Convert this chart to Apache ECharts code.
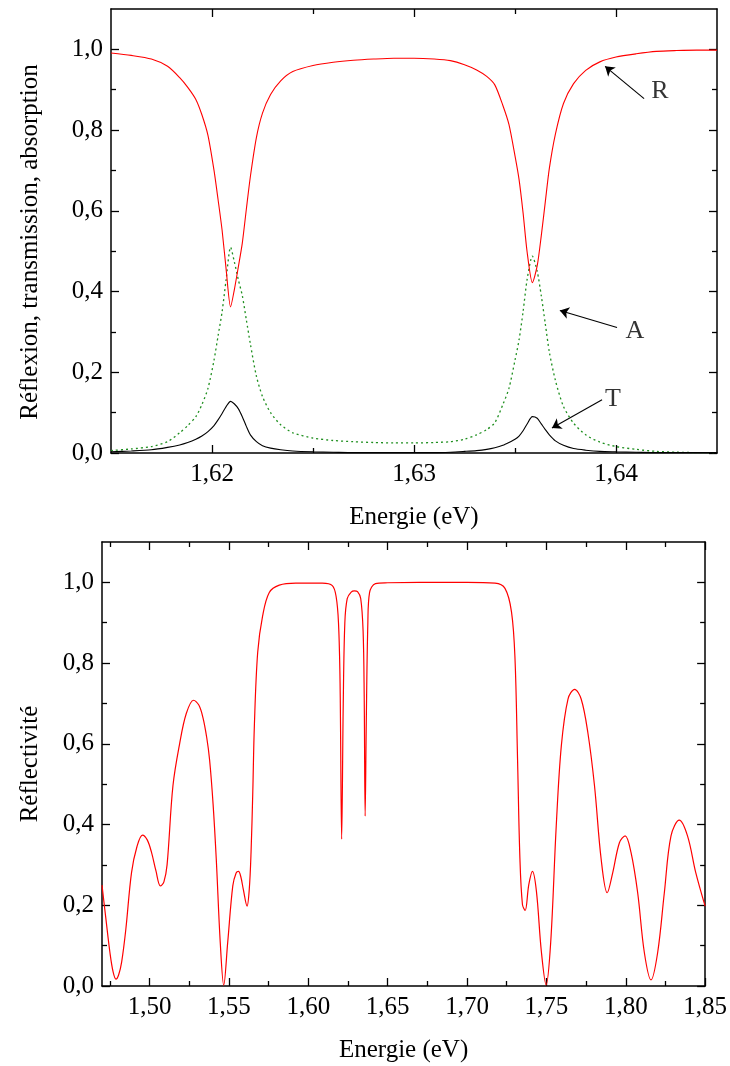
<!DOCTYPE html>
<html>
<head>
<meta charset="utf-8">
<script src="https://cdn.jsdelivr.net/npm/echarts@6/dist/echarts.min.js"></script>
<style>
html,body{margin:0;padding:0;background:#fff;}
#chart{width:730px;height:1066px;}
</style>
</head>
<body>
<div id="chart"></div>
<script>
// ---------- Top chart data (Energie eV) ----------
const topX = [1.615,1.616,1.617,1.6178,1.6184,1.6188,1.6192,1.6195,1.6198,1.6201,1.6203,1.6205,1.6207,1.62092,1.6211,1.6213,1.6215,1.6217,1.6219,1.6222,1.6225,1.6229,1.6234,1.6240,1.6250,1.6260,1.6270,1.6280,1.6290,1.6300,1.6310,1.6318,1.6325,1.6331,1.6336,1.6340,1.6344,1.6347,1.6350,1.6352,1.6354,1.6356,1.63586,1.6361,1.6363,1.6365,1.6367,1.6370,1.6374,1.6379,1.6385,1.6392,1.6400,1.6410,1.6420,1.6430,1.6440,1.6450];
const topR = [0.991,0.985,0.976,0.958,0.930,0.906,0.876,0.838,0.787,0.700,0.628,0.552,0.455,0.362,0.403,0.460,0.520,0.604,0.685,0.782,0.842,0.888,0.922,0.945,0.960,0.968,0.973,0.976,0.978,0.978,0.976,0.972,0.962,0.949,0.933,0.912,0.861,0.814,0.736,0.678,0.595,0.498,0.422,0.464,0.538,0.622,0.705,0.790,0.866,0.915,0.948,0.969,0.981,0.989,0.995,0.997,0.998,0.998];
const topA = [0.006,0.010,0.016,0.028,0.050,0.068,0.090,0.120,0.160,0.230,0.290,0.350,0.430,0.510,0.475,0.430,0.390,0.330,0.270,0.190,0.140,0.100,0.070,0.050,0.037,0.031,0.028,0.026,0.025,0.025,0.026,0.028,0.034,0.045,0.058,0.075,0.120,0.160,0.230,0.280,0.350,0.430,0.488,0.450,0.390,0.320,0.250,0.180,0.115,0.074,0.045,0.027,0.016,0.009,0.004,0.002,0.001,0.001];
const topT = [0.003,0.005,0.008,0.014,0.020,0.026,0.034,0.042,0.053,0.068,0.082,0.098,0.115,0.128,0.122,0.110,0.090,0.066,0.045,0.028,0.018,0.012,0.008,0.005,0.003,0.002,0.001,0.001,0.001,0.001,0.001,0.002,0.004,0.006,0.009,0.013,0.019,0.026,0.034,0.042,0.055,0.072,0.090,0.086,0.072,0.058,0.045,0.030,0.019,0.011,0.007,0.004,0.003,0.002,0.001,0.001,0.001,0.001];

// ---------- Bottom chart data ----------
const botX = [1.4700,1.4725,1.4750,1.4770,1.4788,1.4805,1.4824,1.4850,1.4886,1.4920,1.4955,1.4985,1.5012,1.5040,1.5068,1.5090,1.5110,1.5147,1.5189,1.5231,1.5277,1.5310,1.5336,1.5360,1.5378,1.5400,1.5420,1.5445,1.5467,1.5492,1.5524,1.5545,1.5560,1.5575,1.5590,1.5614,1.5628,1.5639,1.5650,1.5660,1.5681,1.5712,1.5754,1.5817,1.5921,1.6088,1.6151,1.6175,1.6190,1.6200,1.6210,1.6220,1.6230,1.6245,1.6270,1.6290,1.6310,1.6330,1.6345,1.6352,1.6358,1.6365,1.6375,1.6386,1.6423,1.6500,1.6700,1.7000,1.7176,1.7239,1.7280,1.7302,1.7318,1.7333,1.7349,1.7366,1.7389,1.7412,1.7437,1.7468,1.7498,1.7527,1.7562,1.7594,1.7636,1.7678,1.7719,1.7761,1.7803,1.7845,1.7883,1.7918,1.7960,1.7996,1.8033,1.8075,1.8117,1.8159,1.8201,1.8243,1.8285,1.8337,1.8389,1.8441,1.8500];
const botR = [0.250,0.165,0.083,0.035,0.017,0.028,0.060,0.140,0.281,0.345,0.374,0.362,0.331,0.285,0.248,0.258,0.300,0.496,0.600,0.675,0.708,0.696,0.665,0.615,0.560,0.450,0.314,0.108,0.002,0.108,0.248,0.280,0.284,0.270,0.240,0.198,0.240,0.330,0.480,0.645,0.827,0.917,0.975,0.993,0.998,0.998,0.992,0.965,0.900,0.750,0.364,0.700,0.900,0.960,0.976,0.979,0.977,0.960,0.880,0.720,0.421,0.650,0.900,0.975,0.997,0.999,1.000,1.000,0.998,0.985,0.927,0.812,0.565,0.317,0.202,0.187,0.251,0.284,0.235,0.086,0.003,0.108,0.397,0.595,0.711,0.735,0.711,0.628,0.496,0.314,0.231,0.281,0.355,0.372,0.331,0.231,0.083,0.015,0.083,0.231,0.372,0.411,0.372,0.281,0.198];

// ---------- Tick values ----------
const topXMajor = [1.62, 1.63, 1.64];
const topXMinor = [1.625, 1.635];
const botXMajor = [1.50, 1.55, 1.60, 1.65, 1.70, 1.75, 1.80, 1.85];
const botXMinor = [1.475, 1.525, 1.575, 1.625, 1.675, 1.725, 1.775, 1.825];
const yMajor = [0, 0.2, 0.4, 0.6, 0.8, 1.0];
const yMinor = [0.1, 0.3, 0.5, 0.7, 0.9];

// ---------- Annotations (top chart, data coordinates) ----------
const annotNames = ['R', 'A', 'T'];
const annotText = [[1.64218, 0.896], [1.64094, 0.301], [1.63985, 0.134]];
const arrowTail = [[1.64139, 0.878], [1.64005, 0.311], [1.63931, 0.132]];
const arrowHead = [[1.63946, 0.958], [1.63722, 0.353], [1.63683, 0.062]];

const FONT = '"Liberation Serif", "DejaVu Serif", serif';
const FS = 25;
const pairs = (xs, ys) => xs.map((x, i) => [x, ys[i]]);

function xAxes(grid, min, max, major, minor, name, nameGap) {
  const base = {type: 'value', gridIndex: grid, min: min, max: max, splitLine: {show: false}};
  return [
    Object.assign({}, base, {
      position: 'bottom', name: name, nameLocation: 'middle', nameGap: nameGap,
      nameTextStyle: {fontFamily: FONT, fontSize: FS, color: '#000'},
      axisLine: {show: true, onZero: false, lineStyle: {color: '#000', width: 1.5}},
      axisTick: {show: true, inside: true, length: 8, customValues: major, lineStyle: {color: '#000', width: 1.3}},
      axisLabel: {show: true, customValues: major, margin: 9, fontFamily: FONT, fontSize: FS, color: '#000',
        formatter: v => v.toFixed(2).replace('.', ',')}
    }),
    Object.assign({}, base, {
      position: 'bottom', axisLine: {show: false, onZero: false},
      axisTick: {show: true, inside: true, length: 5, customValues: minor, lineStyle: {color: '#000', width: 1.3}},
      axisLabel: {show: false}
    }),
    Object.assign({}, base, {
      position: 'top', axisLine: {show: true, onZero: false, lineStyle: {color: '#000', width: 1.5}},
      axisTick: {show: true, inside: true, length: 8, customValues: major, lineStyle: {color: '#000', width: 1.3}},
      axisLabel: {show: false}
    }),
    Object.assign({}, base, {
      position: 'top', axisLine: {show: false, onZero: false},
      axisTick: {show: true, inside: true, length: 5, customValues: minor, lineStyle: {color: '#000', width: 1.3}},
      axisLabel: {show: false}
    })
  ];
}

function yAxes(grid, name, nameGap, namePad) {
  const base = {type: 'value', gridIndex: grid, min: 0, max: 1.1, splitLine: {show: false}};
  return [
    Object.assign({}, base, {
      position: 'left', name: name, nameLocation: 'middle', nameGap: nameGap, nameRotate: 90,
      nameTextStyle: {fontFamily: FONT, fontSize: FS, color: '#000', padding: namePad},
      axisLine: {show: true, onZero: false, lineStyle: {color: '#000', width: 1.5}},
      axisTick: {show: true, inside: true, length: 8, customValues: yMajor, lineStyle: {color: '#000', width: 1.3}},
      axisLabel: {show: true, customValues: yMajor, margin: 8, fontFamily: FONT, fontSize: FS, color: '#000',
        formatter: v => v.toFixed(1).replace('.', ',')}
    }),
    Object.assign({}, base, {
      position: 'left', axisLine: {show: false, onZero: false},
      axisTick: {show: true, inside: true, length: 5, customValues: yMinor, lineStyle: {color: '#000', width: 1.3}},
      axisLabel: {show: false}
    }),
    Object.assign({}, base, {
      position: 'right', axisLine: {show: true, onZero: false, lineStyle: {color: '#000', width: 1.5}},
      axisTick: {show: true, inside: true, length: 8, customValues: yMajor, lineStyle: {color: '#000', width: 1.3}},
      axisLabel: {show: false}
    }),
    Object.assign({}, base, {
      position: 'right', axisLine: {show: false, onZero: false},
      axisTick: {show: true, inside: true, length: 5, customValues: yMinor, lineStyle: {color: '#000', width: 1.3}},
      axisLabel: {show: false}
    })
  ];
}

const option = {
  animation: false,
  backgroundColor: '#fff',
  grid: [
    {left: 111, right: 13, top: 9, bottom: 613},
    {left: 102, right: 22, top: 542, bottom: 80}
  ],
  xAxis: xAxes(0, 1.615, 1.645, topXMajor, topXMinor, 'Energie (eV)', 52)
    .concat(xAxes(1, 1.47, 1.85, botXMajor, botXMinor, 'Energie (eV)', 52)),
  yAxis: yAxes(0, 'Réflexion, transmission, absorption', 68, [0, 22, 0, 0])
    .concat(yAxes(1, 'Réflectivité', 59, 0)),
  series: [
    {type: 'line', name: 'A', xAxisIndex: 0, yAxisIndex: 0, data: pairs(topX, topA), showSymbol: false,
      smooth: 0.25, lineStyle: {color: '#1f8f1f', width: 1.3, type: [2, 3]}},
    {type: 'line', name: 'T', xAxisIndex: 0, yAxisIndex: 0, data: pairs(topX, topT), showSymbol: false,
      smooth: 0.25, lineStyle: {color: '#000', width: 1.1}},
    {type: 'line', name: 'R', xAxisIndex: 0, yAxisIndex: 0, data: pairs(topX, topR), showSymbol: false,
      smooth: 0.25, lineStyle: {color: '#ff0000', width: 1.1}},
    {type: 'lines', coordinateSystem: 'cartesian2d', xAxisIndex: 0, yAxisIndex: 0,
      symbol: ['none', 'arrow'], symbolSize: 9,
      lineStyle: {color: '#000', width: 1.1, opacity: 1},
      data: arrowTail.map((t, i) => ({coords: [t, arrowHead[i]]}))},
    {type: 'scatter', xAxisIndex: 0, yAxisIndex: 0, symbolSize: 0,
      label: {show: true, position: 'inside', formatter: '{b}', fontFamily: FONT, fontSize: 26, color: '#000'},
      data: annotText.map((p, i) => ({name: annotNames[i], value: p}))},
    {type: 'line', name: 'Réflectivité', xAxisIndex: 4, yAxisIndex: 4, data: pairs(botX, botR), showSymbol: false,
      smooth: 0.35, lineStyle: {color: '#ff0000', width: 1.2}}
  ]
};

const chart = echarts.init(document.getElementById('chart'), null, {renderer: 'canvas'});
chart.setOption(option);
</script>
</body>
</html>
